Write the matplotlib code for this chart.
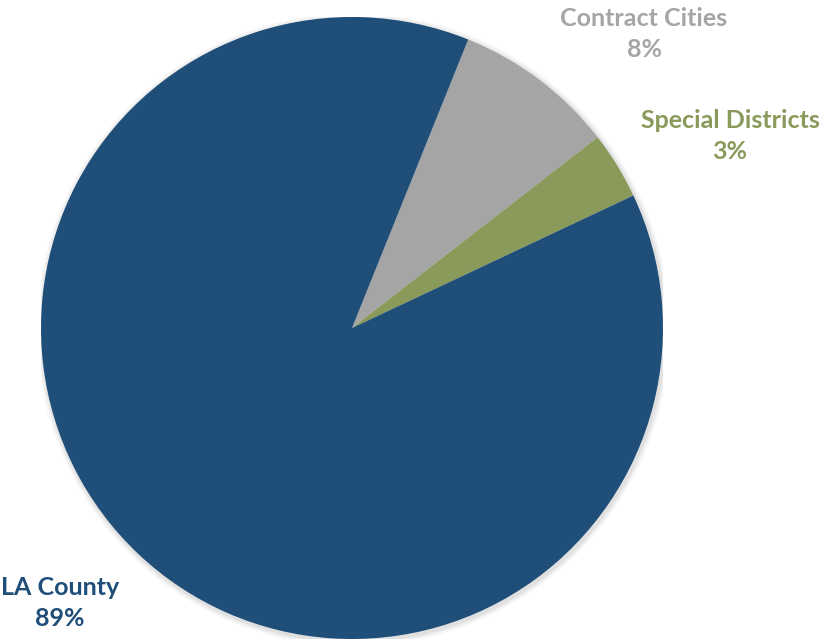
import matplotlib
matplotlib.use("Agg")
import matplotlib.pyplot as plt
from matplotlib.patches import Circle

categories = ["Contract Cities", "Special Districts", "LA County"]
shares = [8.4, 3.5, 88.1]
pct_labels = ["8%", "3%", "89%"]
colors = ["#A5A5A5", "#8A9A5B", "#1F4E79"]

W, H = 823, 641
fig = plt.figure(figsize=(W / 100, H / 100), dpi=100)
cx, cy, r = 352, 328, 311
ax = fig.add_axes([(cx - r) / W, (H - cy - r) / H, 2 * r / W, 2 * r / H])
ax.set_xlim(-1, 1)
ax.set_ylim(-1, 1)
ax.set_aspect("equal")
ax.axis("off")

# soft shadow
for rr, a in [(1.018, 0.03), (1.012, 0.04), (1.006, 0.05)]:
    ax.add_patch(Circle((0.004, -0.006), rr, color="black", alpha=a, lw=0, zorder=0))

ax.pie(shares, colors=colors, startangle=68.06, counterclock=False,
       radius=1, center=(0, 0), frame=False,
       wedgeprops=dict(linewidth=0, zorder=1))
ax.set_xlim(-1, 1)
ax.set_ylim(-1, 1)

label_px = [(644, 34), (730, 136), (60, 603)]
for name, pct, col, (px, py) in zip(categories, pct_labels, colors, label_px):
    fig.text(px / W, (H - py) / H, f"{name}\n{pct}", ha="center", va="center",
             color=col, fontsize=18, fontweight="bold", family="Lato",
             linespacing=1.45)

fig.savefig("out.png", dpi=100)
